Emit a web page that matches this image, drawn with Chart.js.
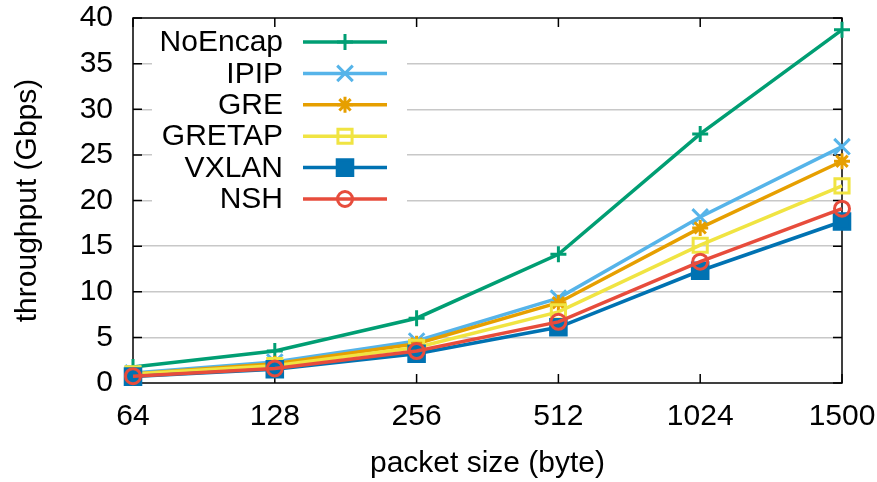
<!DOCTYPE html>
<html>
<head>
<meta charset="utf-8">
<script src="https://cdn.jsdelivr.net/npm/chart.js@4"></script>
<style>
  html, body { margin: 0; padding: 0; background: #fff; }
  #wrap { width: 877px; height: 482px; }
</style>
</head>
<body>
<div id="wrap"><canvas id="chart" width="877" height="482"></canvas></div>
<script>
'use strict';

const packetSizes = ['64', '128', '256', '512', '1024', '1500'];
const noEncap = [1.75, 3.5, 7.1, 14.1, 27.3, 38.7];
const ipip = [1.1, 2.3, 4.6, 9.3, 18.2, 25.9];
const gre = [1.0, 2.1, 4.3, 8.8, 17.0, 24.3];
const gretap = [1.0, 1.9, 3.9, 7.8, 15.1, 21.6];
const vxlan = [0.7, 1.5, 3.2, 6.1, 12.3, 17.7];
const nsh = [0.75, 1.6, 3.5, 6.7, 13.3, 19.1];
const yTicks = [0, 5, 10, 15, 20, 25, 30, 35, 40];

const FONT = '"Liberation Sans", Arial, sans-serif';

const series = [
  { label: 'NoEncap', data: noEncap, color: '#009e73', style: 'cross', radius: 8, fill: false },
  { label: 'IPIP', data: ipip, color: '#56b4e9', style: 'crossRot', radius: 11, fill: false },
  { label: 'GRE', data: gre, color: '#e69f00', style: 'star', radius: 8, fill: false },
  { label: 'GRETAP', data: gretap, color: '#f0e442', style: 'rect', radius: 10, fill: false },
  { label: 'VXLAN', data: vxlan, color: '#0072b2', style: 'rect', radius: 11, fill: true },
  { label: 'NSH', data: nsh, color: '#e74c3c', style: 'circle', radius: 7.5, fill: false },
];

// gnuplot-like frame, inward ticks and key
const framePlugin = {
  id: 'frame',
  beforeDatasetsDraw(chart) {
    const { ctx, chartArea: a, scales } = chart;
    ctx.save();
    // key background hides the grid lines
    ctx.fillStyle = '#fff';
    ctx.fillRect(152, 22, 255, 195);
    ctx.strokeStyle = '#000';
    ctx.lineWidth = 1.5;
    ctx.strokeRect(a.left, a.top, a.right - a.left, a.bottom - a.top);
    ctx.beginPath();
    yTicks.forEach((v) => {
      const y = scales.y.getPixelForValue(v);
      ctx.moveTo(a.left, y); ctx.lineTo(a.left + 9, y);
      ctx.moveTo(a.right, y); ctx.lineTo(a.right - 9, y);
    });
    packetSizes.forEach((_, i) => {
      const x = scales.x.getPixelForValue(i);
      ctx.moveTo(x, a.bottom); ctx.lineTo(x, a.bottom - 9);
      ctx.moveTo(x, a.top); ctx.lineTo(x, a.top + 9);
    });
    ctx.stroke();
    ctx.restore();
  },
  afterDatasetsDraw(chart) {
    const { ctx } = chart;
    ctx.save();
    ctx.font = '30px ' + FONT;
    ctx.textAlign = 'right';
    ctx.textBaseline = 'middle';
    chart.data.datasets.forEach((ds, i) => {
      const y = 42 + i * 31.4;
      ctx.fillStyle = '#000';
      ctx.fillText(ds.label, 283, y + 1);
      ctx.strokeStyle = ds.borderColor;
      ctx.lineWidth = ds.borderWidth;
      ctx.beginPath();
      ctx.moveTo(303, y); ctx.lineTo(387, y);
      ctx.stroke();
      ctx.fillStyle = ds.pointBackgroundColor;
      ctx.strokeStyle = ds.pointBorderColor;
      ctx.lineWidth = ds.pointBorderWidth;
      Chart.helpers.drawPoint(ctx, {
        pointStyle: ds.pointStyle,
        radius: ds.pointRadius,
        borderWidth: ds.pointBorderWidth,
        rotation: 0,
      }, 345, y);
    });
    ctx.restore();
  },
};

new Chart(document.getElementById('chart'), {
  type: 'line',
  data: {
    labels: packetSizes,
    datasets: series.map((s, i) => ({
      label: s.label,
      data: s.data,
      borderColor: s.color,
      backgroundColor: s.color,
      borderWidth: 3.5,
      tension: 0,
      clip: false,
      pointStyle: s.style,
      pointRadius: s.radius,
      pointHoverRadius: s.radius,
      pointBorderWidth: 3,
      pointBorderColor: s.color,
      pointBackgroundColor: s.fill ? s.color : 'rgba(255,255,255,0)',
      order: series.length - i,
    })),
  },
  options: {
    responsive: false,
    animation: false,
    layout: { padding: { top: 18, right: 35, left: 0, bottom: 0 } },
    plugins: {
      legend: { display: false },
      tooltip: { enabled: false },
    },
    scales: {
      x: {
        type: 'category',
        offset: false,
        grid: { display: false, drawTicks: false },
        border: { display: false },
        ticks: {
          color: '#000',
          font: { family: FONT, size: 30 },
          padding: 16,
          maxRotation: 0,
        },
        title: {
          display: true,
          text: 'packet size (byte)',
          color: '#000',
          font: { family: FONT, size: 30 },
          padding: { top: 4, bottom: 0 },
        },
        afterFit: (scale) => {
          scale.height = 99;
          scale.paddingLeft = 0;
          scale.paddingRight = 0;
        },
      },
      y: {
        min: 0,
        max: 40,
        grid: {
          color: (c) => (c.tick.value === 0 || c.tick.value === 40 ? 'rgba(0,0,0,0)' : '#c8c8c8'),
          lineWidth: 1.5,
          drawTicks: false,
        },
        border: { display: false },
        ticks: {
          stepSize: 5,
          color: '#000',
          font: { family: FONT, size: 30 },
          padding: 20,
        },
        title: {
          display: true,
          text: 'throughput (Gbps)',
          color: '#000',
          font: { family: FONT, size: 30 },
          padding: { top: 10, bottom: 0 },
        },
        afterFit: (scale) => {
          scale.width = 133;
          scale.paddingTop = 0;
          scale.paddingBottom = 0;
        },
      },
    },
  },
  plugins: [framePlugin],
});
</script>
</body>
</html>
